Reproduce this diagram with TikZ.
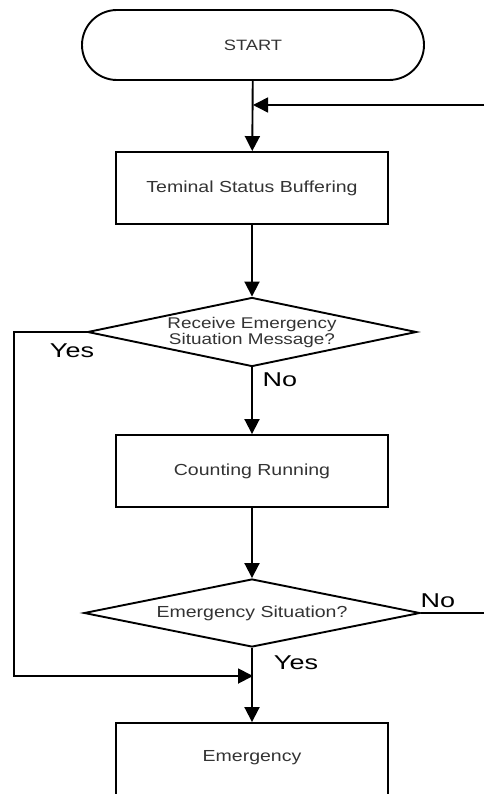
\documentclass[tikz,border=0pt]{standalone}
\usepackage{fontspec}
\setmainfont{Liberation Sans}[FakeStretch=1.22]
\newfontfamily\lblfont{Liberation Sans}[FakeStretch=1.35]
\usetikzlibrary{shapes.geometric,arrows.meta}
\begin{document}
\begin{tikzpicture}[x=1pt,y=-1pt,
  shp/.style={draw=black,line width=1.9pt,inner sep=0pt,align=center,text=black!80,font=\fontsize{16}{16}\selectfont},
  boxnode/.style={shp,rectangle,minimum width=272pt,minimum height=72pt},
  decision/.style={shp,diamond,aspect=5},
  conn/.style={draw=black,line width=1.9pt},
  arr/.style={conn,-{Triangle[length=15pt,width=15pt]}},
  lbl/.style={font=\lblfont\fontsize{20}{22}\selectfont,text=black,inner sep=0pt}]
\useasboundingbox (0,0) rectangle (484,794);
\clip (0,0) rectangle (484,794);
\node[shp,rectangle,rounded corners=35pt,minimum width=342pt,minimum height=70pt,font=\fontsize{15}{16}\selectfont] (start) at (253,45) {START};
\node[boxnode] (b1) at (252,188) {Teminal Status Buffering};
\node[decision,minimum width=329pt,minimum height=69pt,font=\fontsize{15.5}{16}\selectfont] (d1) at (252,332) {Receive Emergency\\Situation Message?};
\node[boxnode] (b2) at (252,471) {Counting Running};
\node[decision,minimum width=336pt,minimum height=68pt] (d2) at (252,613) {Emergency Situation?};
\node[boxnode,minimum height=80pt] (b3) at (252,763) {};
\node[font=\fontsize{16}{16}\selectfont,text=black!80] (b3t) at (252,758) {Emergency};
\coordinate (r1) at (484,105);
\coordinate (m1) at (253,105);
\coordinate (r2) at (484,613);
\coordinate (m2) at (253,676);
\coordinate (yl) at (14,332);
\draw[arr] (start) -- (b1);
\draw[conn,line width=1.5pt,-{Triangle[length=15pt,width=15pt]}] (r1) -- (m1);
\draw[arr] (b1) -- (d1);
\draw[arr] (d1) -- (b2);
\draw[arr] (b2) -- (d2);
\draw[arr] (d2) -- (b3);
\draw[arr] (d1.west) -- (yl) |- (m2);
\draw[conn,line width=1.3pt] (d2.east) -- (r2);
\node[lbl] (yes1) at (72,351) {Yes};
\node[lbl] (no1) at (280,380) {No};
\node[lbl] (no2) at (438,601) {No};
\node[lbl] (yes2) at (296,663) {Yes};
\end{tikzpicture}
\end{document}
